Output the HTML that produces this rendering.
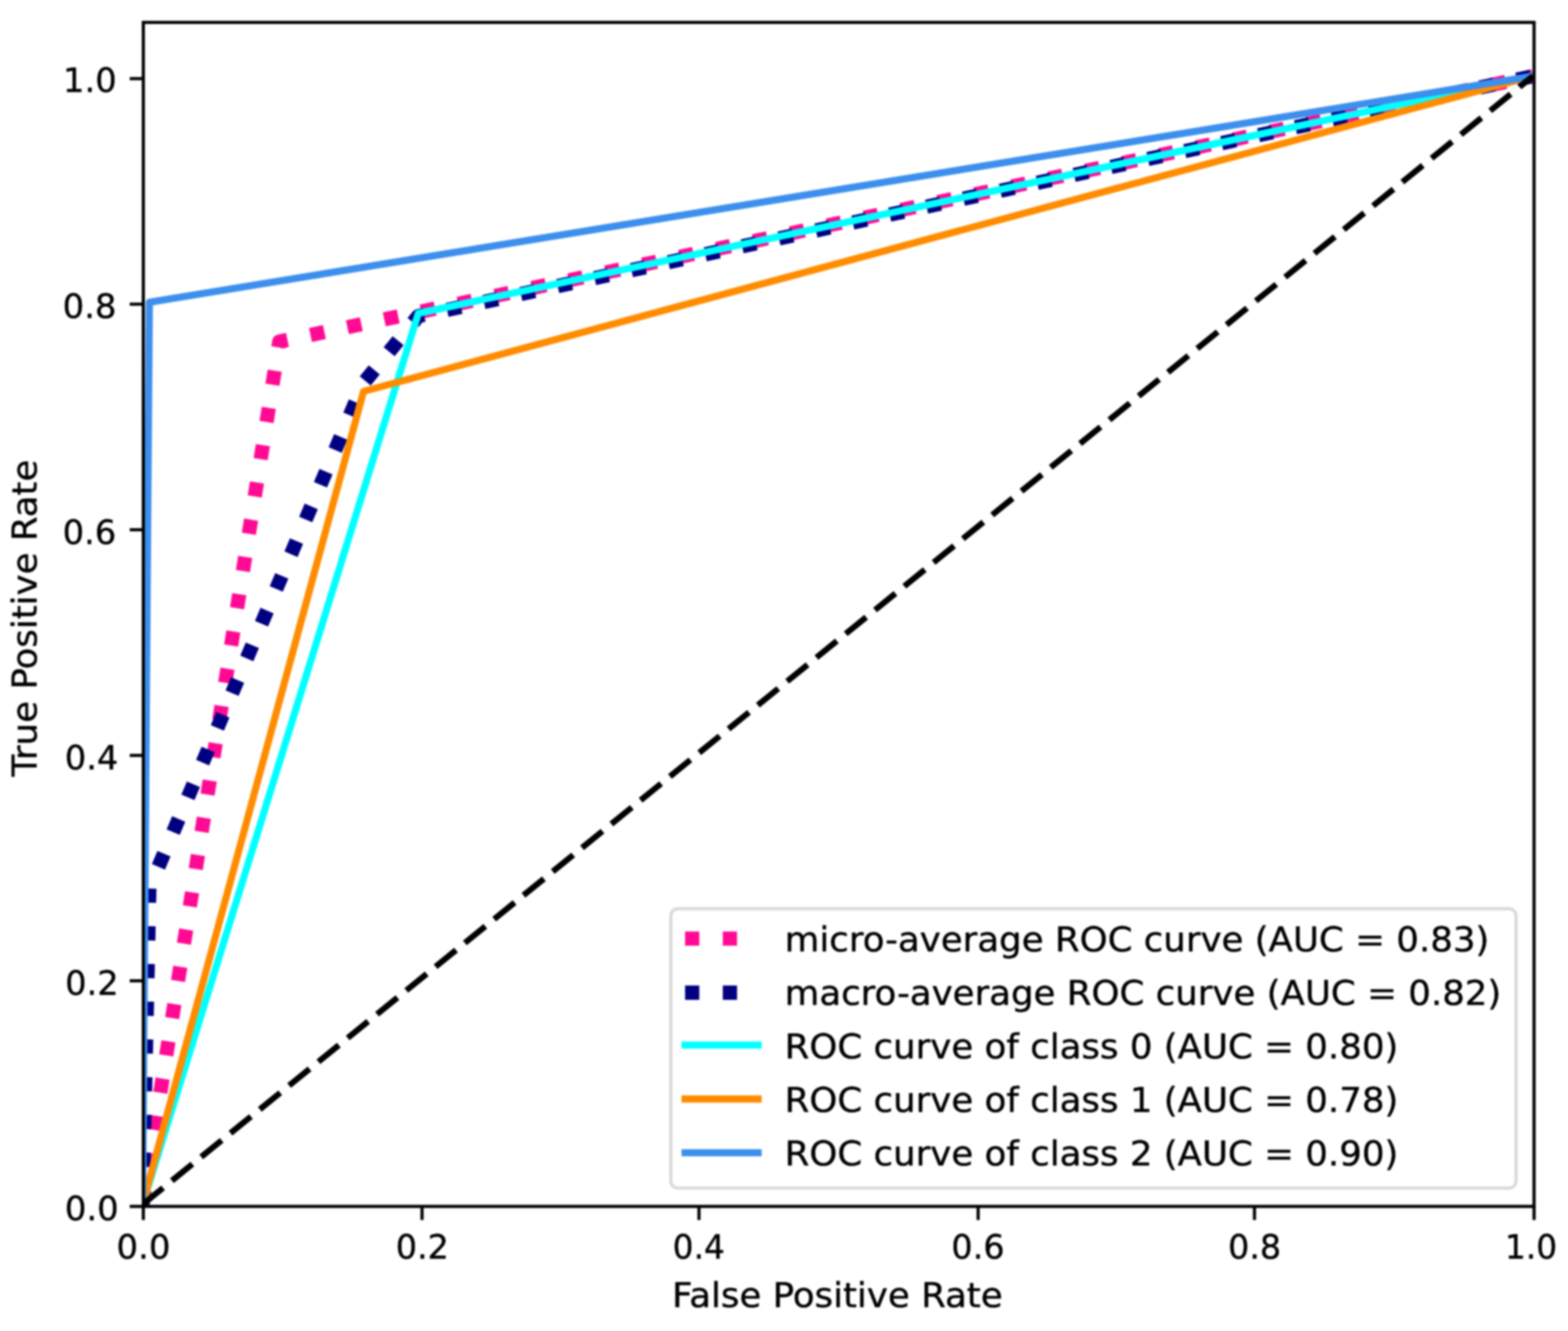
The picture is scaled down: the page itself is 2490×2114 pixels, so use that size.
<!DOCTYPE html>
<html lang="en"><head><meta charset="utf-8"><title>ROC curves</title>
<style>
html,body{margin:0;padding:0;background:#fff;}
body{width:2490px;height:2114px;overflow:hidden;}
svg{display:block;}
text{font-family:"DejaVu Sans","Liberation Sans",sans-serif;font-size:56.5px;fill:#000000;stroke:#000000;stroke-width:0.6px;stroke-linejoin:round;}
</style></head><body>
<svg width="2490" height="2114" viewBox="0 0 2490 2114" role="img" aria-label="ROC curves" text-rendering="geometricPrecision">
<defs><clipPath id="ax"><rect x="227.6" y="35.6" width="2208.50" height="1880.50"/></clipPath><filter id="soft" x="-2%" y="-2%" width="104%" height="104%" color-interpolation-filters="sRGB"><feGaussianBlur stdDeviation="1.7"/></filter></defs>
<rect width="2490" height="2114" fill="#ffffff"/>
<g filter="url(#soft)">
<rect x="-50" y="-50" width="2590" height="2214" fill="#ffffff"/>
<g clip-path="url(#ax)" fill="none" stroke-linejoin="round">
<polyline points="226.50,1913.00 443.50,542.60 2434.00,121.00" stroke="#ff0a93" stroke-width="22.61" stroke-dasharray="22.61 37.31"/>
<polyline points="226.50,1913.00 237.20,1410.71 577.40,608.21 664.30,502.02 2434.00,121.00" stroke="#000080" stroke-width="22.61" stroke-dasharray="22.61 37.31"/>
<polyline points="226.50,1913.00 664.30,497.60 2434.00,121.00" stroke="#00ffff" stroke-width="11.31" stroke-linecap="square"/>
<polyline points="226.50,1913.00 577.40,621.60 2434.00,121.00" stroke="#ff8c00" stroke-width="11.31" stroke-linecap="square"/>
<polyline points="226.50,1913.00 237.20,480.10 2434.00,121.00" stroke="#3d8fee" stroke-width="11.31" stroke-linecap="square"/>
<polyline points="226.50,1913.00 2434.00,121.00" stroke="#000000" stroke-width="9.50" stroke-dasharray="41.83 18.09"/>
</g>
<g stroke="#000000" stroke-width="5.00" fill="none">
<line x1="227.60" y1="1916.10" x2="227.60" y2="1937.69"/>
<line x1="227.60" y1="1916.10" x2="206.01" y2="1916.10"/>
<line x1="670.20" y1="1916.10" x2="670.20" y2="1937.69"/>
<line x1="227.60" y1="1557.80" x2="206.01" y2="1557.80"/>
<line x1="1110.00" y1="1916.10" x2="1110.00" y2="1937.69"/>
<line x1="227.60" y1="1199.80" x2="206.01" y2="1199.80"/>
<line x1="1553.30" y1="1916.10" x2="1553.30" y2="1937.69"/>
<line x1="227.60" y1="841.40" x2="206.01" y2="841.40"/>
<line x1="1992.10" y1="1916.10" x2="1992.10" y2="1937.69"/>
<line x1="227.60" y1="483.10" x2="206.01" y2="483.10"/>
<line x1="2436.10" y1="1916.10" x2="2436.10" y2="1937.69"/>
<line x1="227.60" y1="124.90" x2="206.01" y2="124.90"/>
<rect x="227.6" y="35.6" width="2208.50" height="1880.50" stroke-linejoin="miter"/>
</g>
<g text-anchor="middle">
<text transform="translate(227.85,1998.83) scale(0.9526,0.9400)">0.0</text>
<text transform="translate(670.61,1998.90) scale(0.9400,0.9400)">0.2</text>
<text transform="translate(1109.71,1998.90) scale(0.9202,0.9400)">0.4</text>
<text transform="translate(1553.06,1998.76) scale(0.9394,0.9400)">0.6</text>
<text transform="translate(1992.36,1998.71) scale(0.9351,0.9400)">0.8</text>
<text transform="translate(2431.29,1998.91) scale(0.9251,0.9400)">1.0</text>
<text transform="translate(145.77,1938.18) scale(0.9512,0.9400)">0.0</text>
<text transform="translate(145.94,1579.73) scale(0.9448,0.9400)">0.2</text>
<text transform="translate(145.42,1221.73) scale(0.9416,0.9400)">0.4</text>
<text transform="translate(141.97,863.57) scale(0.9479,0.9400)">0.6</text>
<text transform="translate(142.21,505.08) scale(0.9506,0.9400)">0.8</text>
<text transform="translate(142.66,146.20) scale(0.9474,0.9400)">1.0</text>
</g>
<text transform="translate(1329.70,2076.10) scale(1,0.96)" text-anchor="middle">False Positive Rate</text>
<text transform="translate(57.70,981.70) rotate(-90) scale(1,0.96)" text-anchor="middle">True Positive Rate</text>
<rect x="1065.30" y="1443.20" width="1342.20" height="443.80" rx="11.30" ry="11.30" fill="#ffffff" fill-opacity="0.8" stroke="#d9d9d9" stroke-width="5.00"/>
<line x1="1087.90" y1="1490.80" x2="1200.90" y2="1490.80" stroke="#ff0a93" stroke-width="22.61" stroke-dasharray="22.61 37.31"/>
<text transform="translate(1246.10,1511.30) scale(1,0.96)">micro-average ROC curve (AUC = 0.83)</text>
<line x1="1087.90" y1="1576.60" x2="1200.90" y2="1576.60" stroke="#000080" stroke-width="22.61" stroke-dasharray="22.61 37.31"/>
<text transform="translate(1246.10,1596.20) scale(1,0.96)">macro-average ROC curve (AUC = 0.82)</text>
<line x1="1087.90" y1="1659.95" x2="1203.90" y2="1659.95" stroke="#00ffff" stroke-width="11.31" stroke-linecap="square"/>
<text transform="translate(1246.10,1681.10) scale(1,0.96)">ROC curve of class 0 (AUC = 0.80)</text>
<line x1="1087.90" y1="1745.50" x2="1203.90" y2="1745.50" stroke="#ff8c00" stroke-width="11.31" stroke-linecap="square"/>
<text transform="translate(1246.10,1766.00) scale(1,0.96)">ROC curve of class 1 (AUC = 0.78)</text>
<line x1="1087.90" y1="1830.90" x2="1203.90" y2="1830.90" stroke="#3d8fee" stroke-width="11.31" stroke-linecap="square"/>
<text transform="translate(1246.10,1850.90) scale(1,0.96)">ROC curve of class 2 (AUC = 0.90)</text>
</g>
</svg>
</body></html>
